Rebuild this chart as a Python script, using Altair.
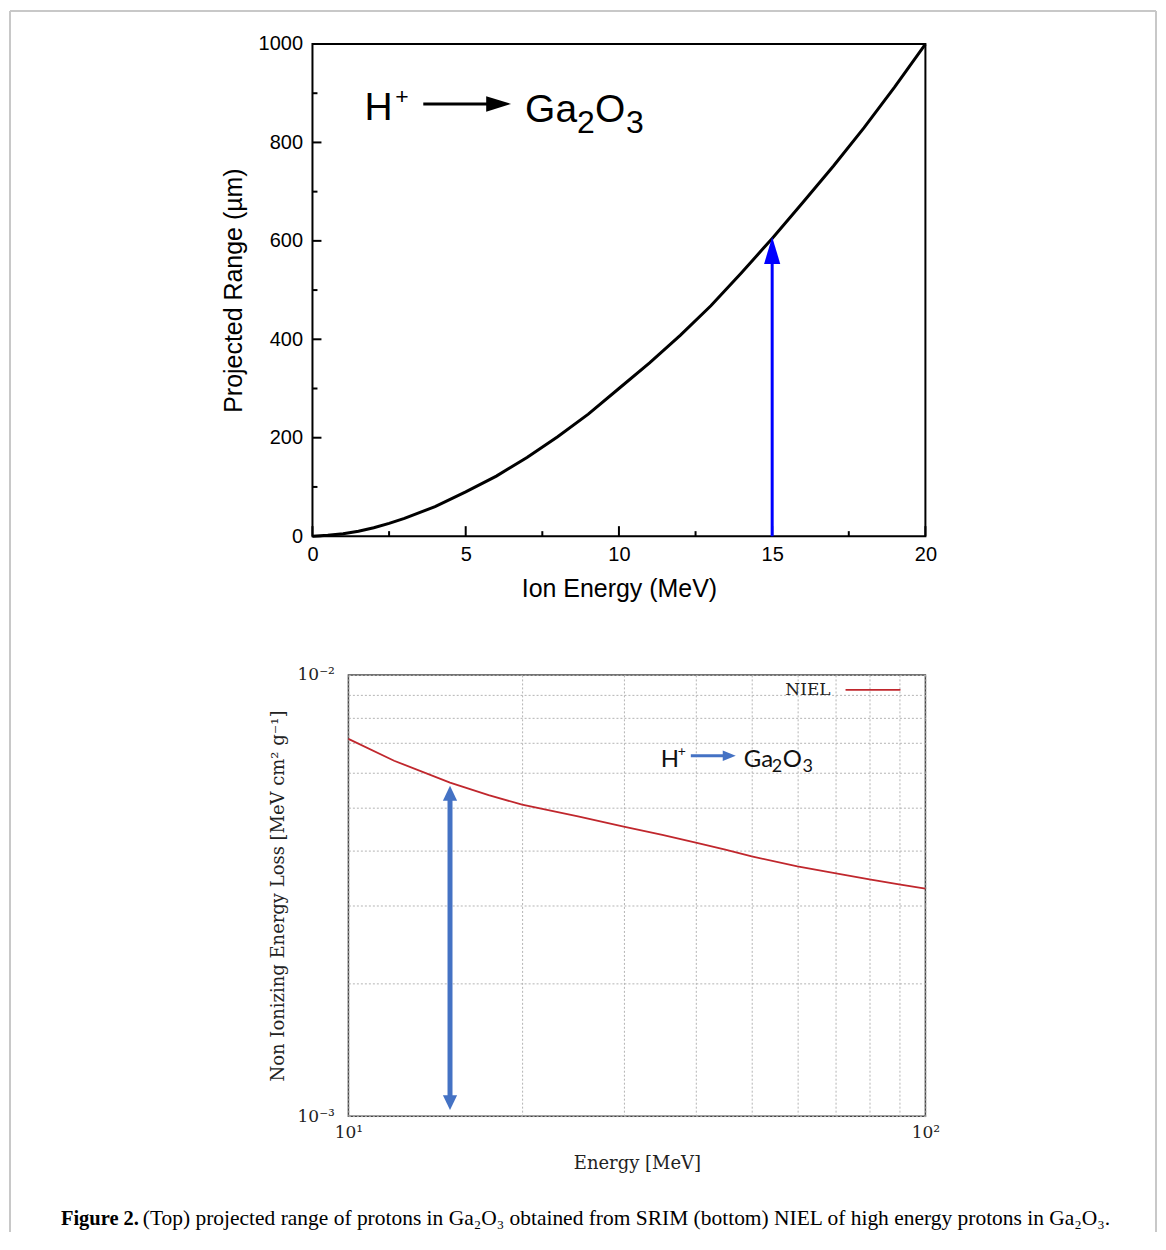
import altair as alt
import pandas as pd

# ---------------- data: top panel (SRIM projected range) ----------------
energy_mev = [0, 0.5, 1, 1.5, 2, 2.5, 3, 4, 5, 6, 7, 8, 9, 10, 11, 12, 13, 14, 15, 16, 17, 18, 19, 20]
range_um = [0, 2, 5, 10, 17, 26, 36, 60, 90, 122, 160, 202, 248, 300, 352, 408, 468, 535, 605, 678, 752, 830, 913, 1000]
x_major = [0, 5, 10, 15, 20]
x_minor = [2.5, 7.5, 12.5, 17.5]
y_major = [0, 200, 400, 600, 800, 1000]
y_minor = [100, 300, 500, 700, 900]
arrow_energy = [15]
arrow_tip_range = [608]

# ---------------- data: bottom panel (NIEL) ----------------
niel_energy = [10, 12, 15, 17.5, 20, 25, 30, 35, 40, 45, 50, 60, 70, 80, 90, 100]
niel_value = [7.16e-3, 6.39e-3, 5.70e-3, 5.34e-3, 5.08e-3, 4.78e-3, 4.53e-3, 4.34e-3,
              4.17e-3, 4.02e-3, 3.88e-3, 3.68e-3, 3.55e-3, 3.44e-3, 3.35e-3, 3.28e-3]
x_grid = [10, 20, 30, 40, 50, 60, 70, 80, 90, 100]
y_grid = [0.001, 0.002, 0.003, 0.004, 0.005, 0.006, 0.007, 0.008, 0.009, 0.01]
darrow_energy = [15]
darrow_top = [5.61e-3]
darrow_bottom = [1.032e-3]

SANS = "Liberation Sans"
SERIF = "DejaVu Serif"
W1, H1 = 614, 493
W2, H2 = 578, 442

# ======================= TOP PANEL =======================
xs = alt.Scale(domain=[0, 20], nice=False, zero=False)
ys = alt.Scale(domain=[0, 1000], nice=False, zero=False)
ax_top_x = alt.Axis(
    values=x_major, ticks=False, domain=False, grid=False, labelFlush=False, format="d",
    labelFont=SANS, labelFontSize=20, labelColor="black", labelPadding=8,
    title="Ion Energy (MeV)", titleFont=SANS, titleFontSize=25,
    titleFontWeight="normal", titleColor="black", titlePadding=12)
ax_top_y = alt.Axis(
    values=y_major, ticks=False, domain=False, grid=False, format="d",
    labelFont=SANS, labelFontSize=20, labelColor="black", labelPadding=10,
    title="Projected Range (µm)", titleFont=SANS, titleFontSize=25,
    titleFontWeight="normal", titleColor="black", titlePadding=12)

top_df = pd.DataFrame({"E": energy_mev, "R": range_um})
curve = alt.Chart(top_df).mark_line(color="black", strokeWidth=3).encode(
    x=alt.X("E:Q", scale=xs, axis=ax_top_x),
    y=alt.Y("R:Q", scale=ys, axis=ax_top_y),
)

def xticks(vals, length):
    return alt.Chart(pd.DataFrame({"E": vals})).mark_rule(color="black", strokeWidth=2).encode(
        x=alt.X("E:Q", scale=xs, axis=ax_top_x), y=alt.value(H1), y2=alt.value(H1 - length))

def yticks(vals, length):
    return alt.Chart(pd.DataFrame({"R": vals})).mark_rule(color="black", strokeWidth=2).encode(
        y=alt.Y("R:Q", scale=ys, axis=ax_top_y), x=alt.value(0), x2=alt.value(length))

arrow_df = pd.DataFrame({"E": arrow_energy, "R0": [0], "R": arrow_tip_range})
blue_shaft = alt.Chart(arrow_df).mark_rule(color="#0000ff", strokeWidth=3, yOffset=20).encode(
    x=alt.X("E:Q", scale=xs, axis=ax_top_x), y=alt.Y("R:Q", scale=ys, axis=ax_top_y), y2="R0:Q")
blue_head = alt.Chart(arrow_df).mark_point(
    shape="M0,-1L0.6,1L-0.6,1Z", size=729, filled=True, opacity=1, strokeWidth=0,
    color="#0000ff", yOffset=13.5).encode(
    x=alt.X("E:Q", scale=xs, axis=ax_top_x), y=alt.Y("R:Q", scale=ys, axis=ax_top_y))

one = pd.DataFrame({"a": [0]})

def label(text, x, y, size, font=SANS, color="black", align="left", baseline="alphabetic", weight="normal"):
    return alt.Chart(one).mark_text(text=text, font=font, fontSize=size, color=color,
                                    align=align, baseline=baseline, fontWeight=weight).encode(
        x=alt.value(x), y=alt.value(y))

top_anno = [
    label("H", 52, 76, 39),
    label("+", 83, 60, 23),
    alt.Chart(one).mark_rule(color="black", strokeWidth=3).encode(
        x=alt.value(111), x2=alt.value(180), y=alt.value(60)),
    alt.Chart(one).mark_point(shape="M1,0L-1,-0.62L-1,0.62Z", size=625, filled=True,
                              opacity=1, strokeWidth=0, color="black").encode(
        x=alt.value(186.5), y=alt.value(60)),
    label("Ga", 213, 78, 39),
    label("2", 265, 89, 32),
    label("O", 283, 78, 39),
    label("3", 314, 89, 32),
]

# light grey frame around the whole figure (left, top, right)
FR = "#c8c8c8"
frame = [
    alt.Chart(one).mark_rule(color=FR, strokeWidth=2).encode(
        x=alt.value(-303), y=alt.value(-33), y2=alt.value(1190)),
    alt.Chart(one).mark_rule(color=FR, strokeWidth=2).encode(
        x=alt.value(-303), x2=alt.value(845), y=alt.value(-33)),
    alt.Chart(one).mark_rule(color=FR, strokeWidth=2).encode(
        x=alt.value(845), y=alt.value(-33), y2=alt.value(1190)),
]

top = alt.layer(
    curve, xticks(x_major, 10), xticks(x_minor, 5), yticks(y_major, 9), yticks(y_minor, 5),
    blue_shaft, blue_head, *top_anno, *frame
).properties(width=W1, height=H1, view=alt.ViewBackground(stroke="black", strokeWidth=2))

# ======================= BOTTOM PANEL =======================
xb = alt.Scale(type="log", domain=[10, 100], nice=False)
yb = alt.Scale(type="log", domain=[0.001, 0.01], nice=False)
GC = "#b4b4b4"
TC = "#222222"
ax_bot_x = alt.Axis(
    values=x_grid, grid=True, gridColor=GC, gridDash=[2, 2], gridWidth=1,
    ticks=False, domain=False, labelFlush=False, labelOverlap=False,
    labelExpr="datum.value == 10 ? '10¹' : (datum.value == 100 ? '10²' : '')",
    labelFont=SERIF, labelFontSize=17, labelColor=TC, labelPadding=8,
    title="Energy [MeV]", titleFont=SERIF, titleFontSize=18, titleFontWeight="normal",
    titleColor=TC, titlePadding=14)
ax_bot_y = alt.Axis(
    values=y_grid, grid=True, gridColor=GC, gridDash=[2, 2], gridWidth=1,
    ticks=False, domain=False, labelOverlap=False,
    labelExpr="abs(datum.value - 0.01) < 1e-9 ? '10⁻²' : (abs(datum.value - 0.001) < 1e-9 ? '10⁻³' : '')",
    labelFont=SERIF, labelFontSize=17, labelColor=TC, labelPadding=14,
    title="Non Ionizing Energy Loss [MeV cm² g⁻¹]", titleFont=SERIF, titleFontSize=18,
    titleFontWeight="normal", titleColor=TC, titlePadding=10)

niel_df = pd.DataFrame({"E": niel_energy, "N": niel_value})
niel = alt.Chart(niel_df).mark_line(color="#c0272d", strokeWidth=1.8).encode(
    x=alt.X("E:Q", scale=xb, axis=ax_bot_x),
    y=alt.Y("N:Q", scale=yb, axis=ax_bot_y),
)

BLUE2 = "#4472c4"
darrow_df = pd.DataFrame({"E": darrow_energy, "N": darrow_top, "B": darrow_bottom})
d_shaft = alt.Chart(darrow_df).mark_rule(color=BLUE2, strokeWidth=5, yOffset=10, y2Offset=-10).encode(
    x=alt.X("E:Q", scale=xb, axis=ax_bot_x), y=alt.Y("N:Q", scale=yb, axis=ax_bot_y), y2="B:Q")
d_head_top = alt.Chart(darrow_df).mark_point(
    shape="M0,-1L0.95,1L-0.95,1Z", size=225, filled=True, opacity=1, strokeWidth=0,
    color=BLUE2, yOffset=7.5).encode(
    x=alt.X("E:Q", scale=xb, axis=ax_bot_x), y=alt.Y("N:Q", scale=yb, axis=ax_bot_y))
darrow_df_b = pd.DataFrame({"E": darrow_energy, "N": darrow_bottom})
d_head_bot = alt.Chart(darrow_df_b).mark_point(
    shape="M0,1L0.95,-1L-0.95,-1Z", size=225, filled=True, opacity=1, strokeWidth=0,
    color=BLUE2, yOffset=-7.5).encode(
    x=alt.X("E:Q", scale=xb, axis=ax_bot_x), y=alt.Y("N:Q", scale=yb, axis=ax_bot_y))

LATO = "Lato"
bot_anno = [
    label("H", 313, 92, 24, font=LATO, color="#111111"),
    label("+", 330, 81, 14, font=LATO, color="#111111"),
    alt.Chart(one).mark_rule(color=BLUE2, strokeWidth=3).encode(
        x=alt.value(343), x2=alt.value(378), y=alt.value(81)),
    alt.Chart(one).mark_point(shape="M1,0L-1,-0.8L-1,0.8Z", size=169, filled=True,
                              opacity=1, strokeWidth=0, color=BLUE2).encode(
        x=alt.value(381.5), y=alt.value(81)),
    label("Ga", 396, 92, 24, font=LATO, color="#111111"),
    label("2", 424, 97, 18, font=LATO, color="#111111"),
    label("O", 435, 92, 24, font=LATO, color="#111111"),
    label("3", 455, 97, 18, font=LATO, color="#111111"),
    # legend
    label("NIEL", 483, 15, 17, font=SERIF, color=TC, align="right", baseline="middle"),
    alt.Chart(one).mark_rule(color="#c0272d", strokeWidth=1.8).encode(
        x=alt.value(498), x2=alt.value(553), y=alt.value(15)),
    # caption
    label("Figure 2.", -288, 551, 20.5, font="Liberation Serif", color="black", weight="bold"),
    label("(Top) projected range of protons in Ga₂O₃ obtained from SRIM (bottom) NIEL of high energy protons in Ga₂O₃.",
          -206, 551, 21.5, font="Liberation Serif", color="black"),
]

bottom = alt.layer(niel, d_shaft, d_head_top, d_head_bot, *bot_anno).properties(
    width=W2, height=H2, view=alt.ViewBackground(stroke="#444444", strokeWidth=1.5))

spacer = alt.Chart(one).mark_point(opacity=0).encode(
    x=alt.value(0), y=alt.value(0)).properties(
    width=16, height=10, view=alt.ViewBackground(strokeOpacity=0))

chart = alt.vconcat(
    top,
    alt.hconcat(spacer, bottom, spacing=20, bounds="flush"),
    spacing=139, bounds="flush",
).properties(padding=0).configure(background="white")

chart.save("out.html", embed_options={"renderer": "svg", "actions": False})
